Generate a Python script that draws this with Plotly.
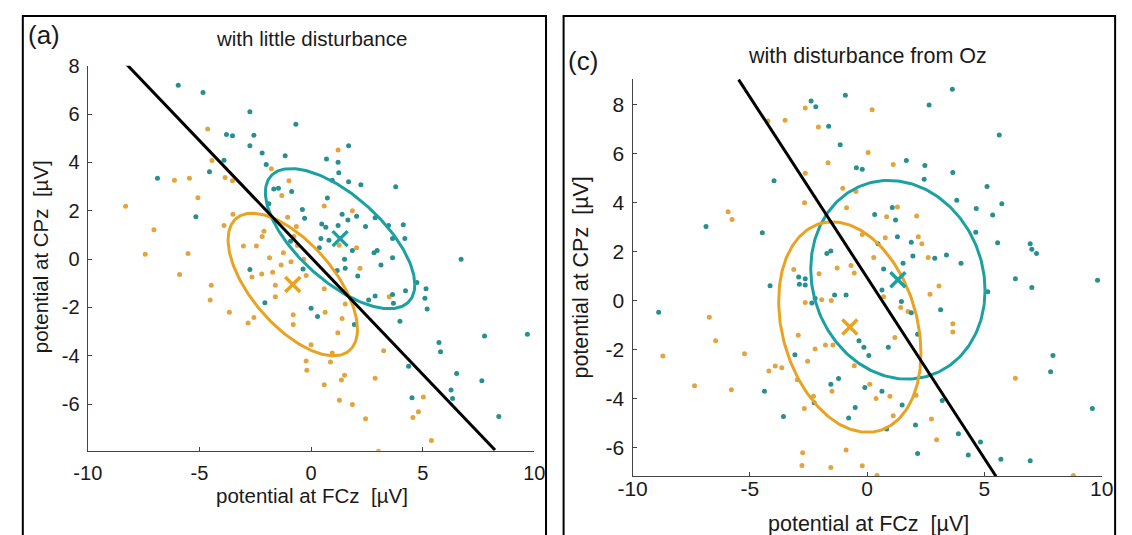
import numpy as np
import plotly.graph_objects as go

# ---------------- data ----------------
# panel (a): with little disturbance
a_teal_x = [-5.95, -4.84, -2.74, -3.79, -3.52, -2.56, -2.74, -2.19, -1.16, -2.01, -3.9, -4.55, -6.88, -5.16,
            -1.67, -1.46, -0.87, -1.89, -0.92,
            -0.68, 1.68, 0.69, 1.21, 1.24, 0.95, 1.68, 2.23, 3.79, 0.73, -0.39, -0.29, 1.39, 2.04, 1.65, 0.48,
            0.66, 1.21, 2.44, 2.87, 3.47, 4.13, 3.65, 4.2, 0.44, 2.96, 0.8, 0.37, 1.5, 1.85, 2.82,
            6.72, 3.13, 3.65, 4.74, 5.15, 5.1, 5.2, 4.23, 3.69, 3.65, 2.87, 2.58, 3.98, 2.09, 1.53, 1.17, -0.36,
            0.0, 0.29, 1.94, 5.73, 5.8, 7.77, 4.37, 6.52, 7.65, 6.27, 6.34, 4.52, 8.41, 9.69, -2.74, -2.07]
a_teal_y = [7.2, 6.9, 6.1, 5.16, 5.11, 5.13, 4.69, 4.39, 4.28, 3.92, 4.09, 3.62, 3.35, 1.76,
            2.9, 2.93, 2.8, 2.29, 0.74,
            5.58, 4.69, 4.15, 4.01, 3.58, 3.27, 3.2, 3.08, 3.0, 2.53, 2.05, 1.69, 1.86, 1.78, 1.62, 1.46,
            1.32, 1.39, 1.35, 1.71, 1.39, 1.42, 0.85, 0.85, 0.85, 0.36, 0.78, 0.47, 0.0, 0.36, 0.27,
            0.0, -0.24, 0.06, -0.97, -1.22, -1.62, -2.06, -1.31, -1.82, -1.46, -1.52, -1.69, -2.57, -0.7, -0.38, -0.47, -0.41,
            -2.03, -2.37, -2.7, -3.45, -3.83, -3.18, -4.43, -4.73, -5.03, -5.41, -5.77, -5.74, -6.51, -3.11, -0.43, -1.8]
a_orange_x = [-4.63, -4.44, -3.85, -3.52, -6.12, -5.45, -5.07, -8.31, -7.04, -3.5, -3.9, -2.11, -2.19, -3.03,
              -2.45, -7.43, -5.51, -1.78, -1.31, -0.99, -1.05,
              1.21, 0.59, 1.85, 2.04, -0.66,
              -5.89, -4.47, -4.52, -3.66, -2.82, -2.56, -2.65, -2.21, -1.72, -1.34, -1.86, -1.6, -1.6, -0.9, -0.8, -0.8,
              -0.77, -0.61, -0.33, -1.24, 1.26,
              3.5, 2.19, 1.53, 1.39, 1.2, 0.63, -0.22, -0.19, 0.87, 3.25, 1.5, 1.36, 2.87, 0.59, 1.27, 1.85, 2.44,
              5.03, 4.81, 4.56, 5.39, 3.02, 0.59, -0.22, 0.0, 0.95]
a_orange_y = [5.39, 4.08, 3.38, 3.24, 3.27, 3.35, 2.54, 2.19, 1.22, 1.86, 1.39, 1.15, 0.94, 0.54,
              0.54, 0.2, 0.23, 3.74, 2.63, 3.24, 1.73,
              4.52, 2.2, 2.0, 0.47, 1.35,
              -0.64, -1.08, -1.69, -2.2, -2.64, -2.41, -0.74, -0.61, -0.54, -0.24, 0.06, -1.08, -1.56, -0.11, -2.3, -2.7,
              0.94, 0.57, 0.0, 0.27, 0.58,
              -1.56, -0.38, -1.86, -2.46, -3.05, -2.2, -4.22, -4.6, -4.26, -3.79, -4.8, -5.0, -4.93, -5.2, -5.84, -6.01, -6.6,
              -5.7, -6.32, -6.55, -7.5, -7.95, -1.22, -0.68, -3.54, -3.88]
a_teal_mean = [1.3, 0.85]
a_teal_cov = [[11.2, -6.38], [-6.38, 8.41]]
a_orange_mean = [-0.82, -1.05]
a_orange_cov = [[8.4, -5.37], [-5.37, 8.7]]
a_line_x = [-8.3, 8.24]
a_line_y = [8.1, -7.9]

# panel (c): with disturbance from Oz
c_teal_x = [-2.39, -2.19, -1.64, -3.97, -6.87, -4.47, -1.72, -1.55, -2.92, -2.64, -1.15,
            -0.93, 3.63, 2.64, 5.63, 1.67, -0.46, -0.21, 2.46, 2.43, 3.65, 5.11, 5.74, 3.82, 4.65, 5.35, 4.63,
            5.56, 6.95, 7.02, 7.22, 6.32, 4.0, 3.38, 2.88, 1.07, 0.32, 1.21, 1.29, 1.88, 1.95, 1.53, 0.7, 0.46,
            -8.89, -4.14, -2.89, -2.64, -2.36, -2.22, -1.39, -3.08, -4.38, -3.57, -1.55, -1.22, -2.26,
            -0.9, 0.63, 1.46, 1.88, 3.13, 5.14, 7.02, 2.15, 0.9, -0.35, -0.14, 0.07, -0.1, 0.63, -0.51,
            -0.79, 0.83, 1.49, 2.06, 3.2, 3.89, 4.83, 4.31, 2.15, 5.7, 6.95, 7.92, 7.82, 9.6, 9.82]
c_teal_y = [8.14, 7.9, 7.11, 4.89, 3.02, 2.77, 1.92, 2.02, 0.96, 0.89, 6.35,
            8.37, 8.61, 7.97, 6.75, 5.71, 5.42, 5.35, 5.51, 4.95, 5.22, 4.65, 3.95, 4.09, 3.75, 3.49, 2.79,
            2.36, 2.32, 2.09, 1.92, 0.89, 1.52, 1.86, 1.73, 3.79, 3.51, 3.29, 2.6, 2.38, 1.82, 1.52, 1.29, 2.32,
            -0.48, 0.6, 0.67, 0.64, -0.1, 0.1, 0.23, -2.21, -3.7, -4.73, -3.41, -3.18, -4.16,
            0.23, 0.43, -0.04, -0.5, -0.37, 0.36, 0.53, -1.37, -1.9, -1.64, -1.9, -2.24, -3.54, -3.7, -4.36,
            -4.79, -5.23, -4.26, -5.07, -4.07, -5.43, -5.76, -6.29, -6.23, -6.47, -6.53, -2.24, -2.9, -4.4, 0.83]
c_orange_x = [-2.64, -3.5, -4.23, -2.08, -1.67, -2.64, -2.67, -5.93, -5.76, -3.13, -2.05, -1.28,
              0.21, 0.04, 1.11, -1.04, -0.48, -0.88, 1.29, 0.83, 2.11, -0.21, 0.77, 2.18, 2.33, 2.6, 0.28,
              -0.69, -0.55,
              -6.73, -6.46, -8.71, -5.23, -7.36, -5.79, -4.19, -3.92, -3.64, -2.94, -2.54, -2.22, -1.78, -1.46,
              -2.64, -1.94, -1.53, -2.98, -2.29, -2.68, -1.5, -2.75, -2.78, -1.55,
              2.68, 3.06, 0.7, 1.43, 1.74, 3.65, 3.65, 1.18, -0.55, 0.11, 0.38, 0.97, 2.08, 2.74, 2.96,
              -0.9, -0.21, 0.42, 6.32, 1.11, 8.79]
c_orange_y = [7.85, 7.35, 7.32, 7.08, 5.62, 5.19, 3.99, 3.62, 3.31, 1.27, 1.09, 1.33,
              7.78, 6.04, 5.55, 4.58, 4.45, 3.78, 3.82, 3.42, 3.45, 2.69, 2.56, 2.6, 2.32, 1.76, 1.76,
              1.43, 1.12,
              -0.68, -1.64, -2.26, -2.17, -3.47, -3.63, -2.87, -2.67, -2.74, -1.41, -2.47, -1.97, -1.81, -1.81,
              -0.08, 0.03, 0.0, -3.23, -3.9, -4.4, -3.7, -6.2, -6.72, -6.8,
              0.26, 0.59, 0.16, -0.28, -0.44, -0.94, -1.28, -1.5, -2.66, -3.41, -3.99, -3.9, -3.86, -4.83, -5.67,
              -6.09, -6.73, -7.13, -3.17, -4.69, -7.13]
c_teal_mean = [1.31, 0.85]
c_teal_cov = [[13.8, -1.6], [-1.6, 16.4]]
c_orange_mean = [-0.74, -1.08]
c_orange_cov = [[9.2, -3.2], [-3.2, 18.4]]
c_line_x = [-5.48, 5.49]
c_line_y = [9.01, -7.16]

x_ticks = [-10, -5, 0, 5, 10]
x_tick_labels = ["-10", "-5", "0", "5", "10"]
y_ticks = [-6, -4, -2, 0, 2, 4, 6, 8]
y_tick_labels = ["-6", "-4", "-2", "0", "2", "4", "6", "8"]

# ---------------- style ----------------
TEAL_DOT = "#288f90"
ORANGE_DOT = "#e3a43e"
TEAL = "#1ba1a1"
ORANGE = "#e8a323"
FONT = "Liberation Sans, Arial, sans-serif"
W, H = 1132, 535


def ellipse(mean, cov, n=240):
    t = np.linspace(0, 2 * np.pi, n)
    L = np.linalg.cholesky(np.array(cov))
    pts = L @ np.vstack([np.cos(t), np.sin(t)])
    return pts[0] + mean[0], pts[1] + mean[1]


fig = go.Figure()


def add_panel(xa, ya, tx, ty, ox, oy, tm, tc, om, oc, lx, ly):
    fig.add_trace(go.Scatter(x=ox, y=oy, mode="markers", xaxis=xa, yaxis=ya,
                             marker=dict(size=5, color=ORANGE_DOT)))
    fig.add_trace(go.Scatter(x=tx, y=ty, mode="markers", xaxis=xa, yaxis=ya,
                             marker=dict(size=5, color=TEAL_DOT)))
    ex, ey = ellipse(tm, tc)
    fig.add_trace(go.Scatter(x=ex, y=ey, mode="lines", xaxis=xa, yaxis=ya,
                             line=dict(color=TEAL, width=3)))
    ex, ey = ellipse(om, oc)
    fig.add_trace(go.Scatter(x=ex, y=ey, mode="lines", xaxis=xa, yaxis=ya,
                             line=dict(color=ORANGE, width=3)))
    fig.add_trace(go.Scatter(x=lx, y=ly, mode="lines", xaxis=xa, yaxis=ya,
                             line=dict(color="black", width=3)))
    fig.add_trace(go.Scatter(x=[tm[0]], y=[tm[1]], mode="markers", xaxis=xa, yaxis=ya,
                             marker=dict(symbol="x-thin", size=15, line=dict(color=TEAL, width=3.5))))
    fig.add_trace(go.Scatter(x=[om[0]], y=[om[1]], mode="markers", xaxis=xa, yaxis=ya,
                             marker=dict(symbol="x-thin", size=15, line=dict(color=ORANGE, width=3.5))))


add_panel("x", "y", a_teal_x, a_teal_y, a_orange_x, a_orange_y,
          a_teal_mean, a_teal_cov, a_orange_mean, a_orange_cov, a_line_x, a_line_y)
add_panel("x2", "y2", c_teal_x, c_teal_y, c_orange_x, c_orange_y,
          c_teal_mean, c_teal_cov, c_orange_mean, c_orange_cov, c_line_x, c_line_y)

axis_common = dict(showgrid=False, zeroline=False, showline=True, linecolor="#444", linewidth=1.3,
                   ticks="inside", ticklen=4, tickcolor="#444", mirror=False)


def tf(size):
    return dict(family=FONT, size=size, color="#1a1a1a")


fig.update_layout(
    width=W, height=H, margin=dict(l=0, r=0, t=0, b=0),
    paper_bgcolor="white", plot_bgcolor="white", showlegend=False,
    xaxis=dict(domain=[74.6 / W, 532 / W], range=[-10, 10], tickvals=x_ticks, ticktext=x_tick_labels,
               anchor="y", ticklabelstandoff=4, tickfont=tf(20), **axis_common),
    yaxis=dict(domain=[1 - 449 / H, 1 - 56 / H], range=[-7.93, 8.0], tickvals=y_ticks, ticktext=y_tick_labels,
               anchor="x", ticklabelstandoff=3, tickfont=tf(20), **axis_common),
    xaxis2=dict(domain=[632.7 / W, 1113.3 / W], range=[-10, 10], tickvals=x_ticks, ticktext=x_tick_labels,
                anchor="y2", ticklabelstandoff=-7, tickfont=tf(21), **axis_common),
    yaxis2=dict(domain=[1 - 475 / H, 1 - 69 / H], range=[-7.16, 9.05], tickvals=y_ticks, ticktext=y_tick_labels,
                anchor="x2", ticklabelstandoff=3, tickfont=tf(21), **axis_common),
)

# panel frames
fig.add_shape(type="rect", xref="paper", yref="paper", x0=8 / W, x1=544 / W, y0=-0.05, y1=1 - 5 / H,
              line=dict(color="black", width=2))
fig.add_shape(type="rect", xref="paper", yref="paper", x0=562 / W, x1=1127 / W, y0=-0.05, y1=1 - 5 / H,
              line=dict(color="black", width=2))

NB = "\u00a0"
ann = [
    ("(a)", 11, 25, 26, 0, "left"),
    ("with little disturbance", 303.6, 28, 20.5, 0, "center"),
    ("(c)", 564, 51, 26, 0, "left"),
    ("with disturbance from Oz", 873.6, 46, 21.5, 0, "center"),
    ("potential at FCz" + NB + NB + "[\u00b5V]", 304.6, 495, 20.5, 0, "center"),
    ("potential at CPz" + NB + NB + "[\u00b5V]", 26, 251, 20.5, -90, "center"),
    ("potential at FCz" + NB + NB + "[\u00b5V]", 874, 524, 21.5, 0, "center"),
    ("potential at CPz" + NB + NB + "[\u00b5V]", 580, 272, 21.5, -90, "center"),
]
for text, px, py, size, ang, anchor in ann:
    fig.add_annotation(text=text, x=px / W, y=1 - py / H, xref="paper", yref="paper",
                       xanchor=anchor, yanchor="middle", showarrow=False, textangle=ang,
                       font=tf(size))

fig.write_html("out.html",
               post_script="document.body.style.margin='0';document.body.style.padding='0';")
